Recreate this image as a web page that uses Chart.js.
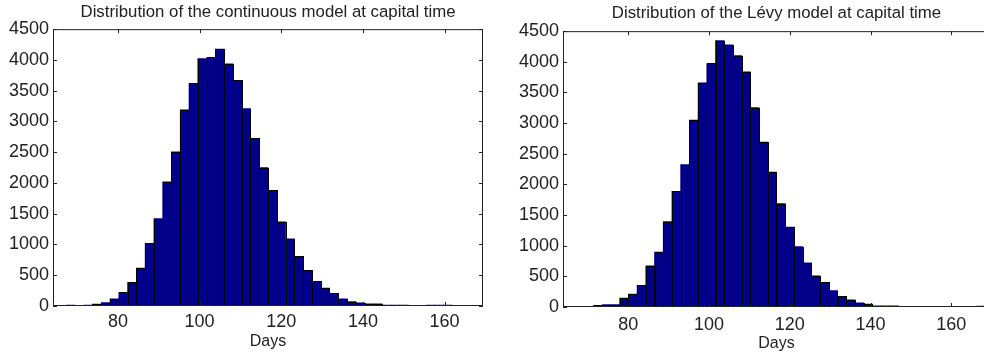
<!DOCTYPE html>
<html>
<head>
<meta charset="utf-8">
<script src="https://cdn.jsdelivr.net/npm/chart.js@4.4.1/dist/chart.umd.min.js"></script>
<style>
  html, body { margin: 0; padding: 0; background: #fff; }
  body { width: 984px; height: 356px; overflow: hidden; position: relative; }
  canvas { position: absolute; top: 0; }
  #chartKontinu { left: 0; }
  #chartLevy { left: 492px; }
</style>
</head>
<body>
<canvas id="chartKontinu" width="492" height="356"></canvas>
<canvas id="chartLevy" width="500" height="356"></canvas>
<script>
// histogram counts, 50 bins each
const continuousCounts = [
    2, 0, 16, 3, 16, 30, 55, 118, 222, 385,
    615, 1020, 1420, 2020, 2505, 3190, 3620, 4020, 4040, 4175,
    3935, 3670, 3210, 2725, 2250, 1880, 1370, 1090, 805, 578,
    400, 292, 205, 115, 70, 50, 35, 35, 15, 14,
    14, 12, 0, 14, 14, 14, 0, 0, 0, 2
];
const levyCounts = [
    8, 8, 8, 8, 27, 38, 38, 146, 211, 351,
    670, 897, 1394, 1886, 2324, 3048, 3659, 3973, 4346, 4275,
    4102, 3838, 3254, 2692, 2200, 1686, 1303, 984, 719, 508,
    402, 268, 173, 119, 70, 49, 20, 20, 18, 8,
    8, 8, 8, 8, 8, 8, 0, 0, 14, 2
];

// bin layout (days): centre of first bin and bin width
const continuousBins = { start: 64.1, width: 2.149 };
const levyBins = { start: 63.85, width: 2.158 };

const dayTicks = [80, 100, 120, 140, 160];
const countTicks = [0, 500, 1000, 1500, 2000, 2500, 3000, 3500, 4000, 4500];

const barColor = '#00008C';
const inkColor = '#222222';
const fontFamily = '"Liberation Sans", Arial, Helvetica, sans-serif';

// crisp black outline on every bar, snapped to whole pixels
const barEdges = {
    id: 'barEdges',
    afterDatasetsDraw(chart) {
        const { ctx, chartArea: a } = chart;
        ctx.save();
        ctx.beginPath();
        ctx.rect(a.left, a.top, a.right - a.left, a.bottom - a.top);
        ctx.clip();
        ctx.strokeStyle = '#000000';
        ctx.lineWidth = 1;
        chart.getDatasetMeta(0).data.forEach(bar => {
            const p = bar.getProps(['x', 'y', 'base', 'width'], true);
            if (p.base - p.y <= 0) return;
            const l = Math.round(p.x - p.width / 2);
            const r = Math.round(p.x + p.width / 2);
            const t = Math.round(p.y);
            const b = Math.round(p.base);
            ctx.strokeRect(l + 0.5, t + 0.5, r - l, b - t);
        });
        ctx.restore();
    }
};

// box round the plot with little inward ticks on every side (matlab look)
const frameTicks = {
    id: 'frameTicks',
    afterDatasetsDraw(chart) {
        const { ctx, chartArea: a, scales: { x, y } } = chart;
        const len = 4;
        ctx.save();
        ctx.strokeStyle = inkColor;
        ctx.lineWidth = 1;
        ctx.beginPath();
        ctx.rect(a.left + 0.5, a.top + 0.5, a.right - a.left - 1, a.bottom - a.top - 1);
        x.ticks.forEach(t => {
            const px = Math.round(x.getPixelForValue(t.value)) + 0.5;
            ctx.moveTo(px, a.bottom); ctx.lineTo(px, a.bottom - len);
            ctx.moveTo(px, a.top); ctx.lineTo(px, a.top + len);
        });
        y.ticks.forEach(t => {
            const py = Math.round(y.getPixelForValue(t.value)) + 0.5;
            ctx.moveTo(a.left, py); ctx.lineTo(a.left + len, py);
            ctx.moveTo(a.right, py); ctx.lineTo(a.right - len, py);
        });
        ctx.stroke();
        ctx.restore();
    }
};

function histogram(canvasId, title, counts, bins, box) {
    const el = document.getElementById(canvasId);
    if (!el) return;
    const points = counts.map((c, i) => ({ x: bins.start + i * bins.width, y: c }));
    const lastCentre = bins.start + (counts.length - 1) * bins.width;

    new Chart(el.getContext('2d'), {
        type: 'bar',
        data: {
            datasets: [{
                data: points,
                backgroundColor: barColor,
                borderWidth: 0,
                barPercentage: 1,
                categoryPercentage: 1
            }]
        },
        options: {
            responsive: false,
            animation: false,
            layout: { padding: { left: 0, right: box.padRight, top: 0, bottom: 0 } },
            plugins: {
                legend: { display: false },
                tooltip: { enabled: false },
                title: {
                    display: true,
                    text: title,
                    fullSize: false,
                    color: inkColor,
                    font: { family: fontFamily, size: 16.8, weight: 'normal' },
                    padding: box.titlePad
                }
            },
            scales: {
                x: {
                    type: 'linear',
                    offset: false,
                    min: bins.start,
                    max: lastCentre,
                    grid: { display: false, drawTicks: false, offset: false },
                    border: { display: false },
                    afterBuildTicks: s => { s.ticks = dayTicks.map(v => ({ value: v })); },
                    afterFit: s => { s.height = box.xHeight; },
                    ticks: {
                        color: inkColor,
                        padding: box.xTickPad,
                        maxRotation: 0,
                        font: { family: fontFamily, size: 18 },
                        callback: v => String(v)
                    },
                    title: {
                        display: true,
                        text: 'Days',
                        color: inkColor,
                        font: { family: fontFamily, size: 16 },
                        padding: { top: 0, bottom: box.daysPad }
                    }
                },
                y: {
                    min: 0,
                    max: 4500,
                    grid: { display: false, drawTicks: false },
                    border: { display: false },
                    afterBuildTicks: s => { s.ticks = countTicks.map(v => ({ value: v })); },
                    afterFit: s => { s.width = box.yWidth; },
                    ticks: {
                        color: inkColor,
                        padding: 4,
                        font: { family: fontFamily, size: 18 },
                        callback: v => String(v)
                    }
                }
            }
        },
        plugins: [barEdges, frameTicks]
    });
}

document.addEventListener('DOMContentLoaded', function () {
    histogram('chartKontinu', 'Distribution of the continuous model at capital time',
        continuousCounts, continuousBins,
        { yWidth: 53, xHeight: 50, padRight: 9, titlePad: { top: 2, bottom: 7 }, xTickPad: 5, daysPad: 5 });

    histogram('chartLevy', 'Distribution of the L\u00e9vy model at capital time',
        levyCounts, levyBins,
        { yWidth: 71, xHeight: 49, padRight: 2, titlePad: { top: 3, bottom: 8 }, xTickPad: 7, daysPad: 3 });
});
</script>
</body>
</html>
